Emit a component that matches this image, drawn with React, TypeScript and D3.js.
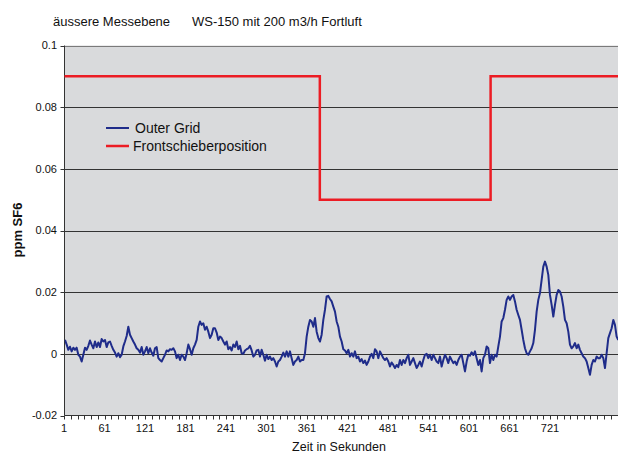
import React from "react";
import * as d3 from "d3";

const W = 618;
const H = 454;

const titleLeft = "äussere Messebene";
const titleRight = "WS-150 mit 200 m3/h Fortluft";
const yAxisTitle = "ppm SF6";
const xAxisTitle = "Zeit in Sekunden";
const seriesNames = ["Outer Grid", "Frontschieberposition"];

const yTickValues = [-0.02, 0, 0.02, 0.04, 0.06, 0.08, 0.1];
const yTickLabels = ["-0.02", "0", "0.02", "0.04", "0.06", "0.08", "0.1"];
const xLabelValues = [1, 61, 121, 181, 241, 301, 361, 421, 481, 541, 601, 661, 721];
const xMinorTicks = d3.range(1, 823, 10);

// Outer Grid samples (ppm SF6)
const sampleStart = 2.48;
const sampleStep = 2.469;
const outerGrid = [
  0.0045, 0.003, 0.0013, 0.0023, 0.0008, 0.002, 0.0013, 0.002, -0.0003, -0.0009, -0.0025, -0.0003, 0.002, 0.0013, 0.0026, 0.0043, 0.003, 0.0018,
  0.004, 0.0022, 0.0037, 0.0022, 0.0048, 0.004, 0.0045, 0.0022, 0.0037, 0.004, 0.0026, 0.0013, 0.0004, -0.0009, 0.0002, -0.0011, -0.0003, 0.0024, 0.004, 0.0058,
  0.0088, 0.0062, 0.0051, 0.004, 0.003, 0.0018, 0.0013, 0.0004, 0.0022, -0.0003, 0.0008, 0.0022, 0.0002, 0.0018, 0.0004, -0.0006, 0.0018, 0.0022, -0.0014, -0.002,
  -0.0025, -0.0014, -0.0003, 0.0011, 0.0008, 0.0015, 0.0013, 0.0018, 0.0008, -0.0014, -0.0003, -0.002, -0.0003, -0.0009, -0.002, 0.0002, 0.003, 0.0015, -0.0003, 0.0018,
  0.003, 0.0045, 0.0088, 0.0105, 0.0094, 0.0099, 0.0078, 0.0088, 0.0072, 0.0051, 0.0062, 0.0083, 0.0083, 0.0069, 0.0045, 0.0056, 0.0051, 0.004, 0.003, 0.004,
  0.0015, 0.0022, 0.0011, 0.003, 0.0022, 0.004, 0.0015, 0.0026, 0.0002, 0, 0.0011, 0.0015, 0.0018, 0.0026, 0.0011, -0.0009, -0.0003, 0.0011, 0.0013, -0.0009,
  0.0013, -0.0003, -0.0022, -0.0003, -0.0017, -0.0009, -0.002, -0.0014, -0.0025, -0.0041, -0.0025, -0.002, -0.0009, 0.0004, -0.0009, 0.0008, -0.0009, 0.0008, -0.0014, -0.0036,
  -0.0025, -0.002, -0.0009, -0.0025, -0.002, -0.002, 0.0002, 0.0056, 0.0088, 0.011, 0.0105, 0.0088, 0.0116, 0.0072, 0.0051, 0.004, 0.0062, 0.011, 0.0143, 0.0186,
  0.0188, 0.0178, 0.017, 0.0153, 0.0137, 0.0105, 0.0088, 0.0056, 0.004, 0.0015, 0.0011, 0.0002, 0.0013, -0.0009, 0.0002, -0.0009, 0.0008, -0.0014, -0.0009, -0.0025,
  -0.0017, -0.003, -0.0022, -0.0036, -0.0025, -0.0009, 0, -0.0014, 0.0015, 0.0008, -0.0014, 0.0008, -0.0003, -0.0014, -0.002, -0.0014, -0.0025, -0.0041, -0.0028, -0.0036,
  -0.0046, -0.0036, -0.0043, -0.002, -0.0036, -0.002, -0.003, -0.0014, -0.0003, -0.0036, -0.0025, -0.0014, -0.003, -0.0046, -0.0036, -0.0025, -0.0041, -0.002, -0.0003, 0,
  -0.0014, -0.0003, -0.002, -0.0003, -0.0014, -0.0025, -0.003, -0.0009, -0.0041, -0.002, -0.0003, -0.0014, -0.003, -0.0009, -0.002, -0.003, -0.0025, -0.0036, -0.002, -0.0009,
  -0.0003, -0.003, -0.0057, -0.0025, -0.0003, -0.0006, 0.0005, -0.0004, 0.0008, -0.0014, -0.0036, -0.002, -0.0057, -0.0014, -0.0003, 0.0024, 0.0018, -0.003, -0.0003, -0.002,
  -0.0003, -0.0009, 0.0024, 0.0056, 0.0105, 0.0116, 0.0143, 0.0175, 0.0186, 0.0175, 0.0186, 0.0191, 0.017, 0.0143, 0.0126, 0.011, 0.0078, 0.0045, 0.0018, 0.0002,
  -0.0003, 0.0008, 0.0018, 0.0035, 0.0078, 0.0137, 0.0175, 0.0197, 0.024, 0.0283, 0.0299, 0.0283, 0.0256, 0.0191, 0.0159, 0.0121, 0.0159, 0.0191, 0.0207, 0.0202,
  0.0186, 0.0153, 0.011, 0.0099, 0.0072, 0.003, 0.0018, 0.0024, 0.0035, 0.0018, 0.003, 0.0013, 0.0002, -0.0009, -0.0014, -0.0025, -0.0046, -0.0068, -0.0036, -0.002,
  -0.0025, -0.0009, -0.0014, -0.0014, -0.0003, -0.0014, -0.0046, 0.0002, 0.0051, 0.0067, 0.0083, 0.011, 0.0094, 0.0056, 0.0045,
];

// Frontschieberposition (step signal)
const frontTimes = [1, 380, 380, 633, 633, 826];
const frontValues = [0.09, 0.09, 0.05, 0.05, 0.09, 0.09];

const FONT = "'Liberation Sans', Arial, Helvetica, sans-serif";

export default function App() {
  const plot = { left: 64.5, right: 618, top: 45.5, bottom: 415.5 };
  const x = d3.scaleLinear().domain([1, 721]).range([64, 550]);
  const y = d3.scaleLinear().domain([-0.02, 0.1]).range([plot.bottom, plot.top]);

  const blueLine = d3
    .line<number>()
    .x((_, i) => x(sampleStart + i * sampleStep))
    .y((d) => y(d))(outerGrid) as string;

  const redLine = d3
    .line<number>()
    .x((_, i) => x(frontTimes[i]))
    .y((d) => y(d))(frontValues) as string;

  const blue = "#1f2c8a";
  const red = "#ec1c24";

  return (
    <div style={{ position: "absolute", left: 0, top: 0 }}>
      <svg width={W} height={H} style={{ display: "block", background: "#fff" }} fontFamily={FONT}>
        <defs>
          <clipPath id="plotClip">
            <rect x={plot.left} y={plot.top - 2} width={plot.right - plot.left} height={plot.bottom - plot.top + 4} />
          </clipPath>
        </defs>
        <text x={53} y={26} fontSize={13} fill="#111">{titleLeft}</text>
        <text x={192} y={26} fontSize={13} fill="#111">{titleRight}</text>

        <rect x={plot.left} y={plot.top} width={plot.right - plot.left} height={plot.bottom - plot.top} fill="#d9dadc" />

        {yTickValues.map((v, i) => (
          <g key={"gy" + i}>
            {v > -0.02 && (
              <line
                x1={plot.left}
                x2={plot.right}
                y1={Math.round(y(v)) + 0.5}
                y2={Math.round(y(v)) + 0.5}
                stroke={v === 0.1 ? "#7a7a7a" : "#333"}
                strokeWidth={1}
              />
            )}
            <line x1={plot.left - 4} x2={plot.left} y1={Math.round(y(v)) + 0.5} y2={Math.round(y(v)) + 0.5} stroke="#333" />
            <text x={57} y={y(v)} dy="0.35em" textAnchor="end" fontSize={11} fill="#111">
              {yTickLabels[i]}
            </text>
          </g>
        ))}

        <line x1={plot.left} x2={plot.left} y1={plot.top} y2={plot.bottom} stroke="#333" />
        <line x1={plot.left} x2={plot.right} y1={plot.bottom} y2={plot.bottom} stroke="#333" />

        {xMinorTicks.map((t) => (
          <line key={"tx" + t} x1={Math.round(x(t)) + 0.5} x2={Math.round(x(t)) + 0.5} y1={plot.bottom} y2={plot.bottom + 4} stroke="#333" />
        ))}
        {xLabelValues.map((t) => (
          <text key={"lx" + t} x={x(t)} y={432} textAnchor="middle" fontSize={11} fill="#111">
            {t}
          </text>
        ))}

        <g clipPath="url(#plotClip)">
          <path d={redLine} fill="none" stroke={red} strokeWidth={2.5} />
          <path d={blueLine} fill="none" stroke={blue} strokeWidth={2} strokeLinejoin="round" />
        </g>

        <line x1={106} x2={129} y1={128} y2={128} stroke={blue} strokeWidth={2} />
        <text x={135} y={128} dy="0.35em" fontSize={14} fill="#111">{seriesNames[0]}</text>
        <line x1={106} x2={129} y1={146} y2={146} stroke={red} strokeWidth={2.5} />
        <text x={133} y={146} dy="0.35em" fontSize={14} fill="#111">{seriesNames[1]}</text>

        <text x={339} y={451} textAnchor="middle" fontSize={12.5} fill="#111">{xAxisTitle}</text>
        <text transform="translate(22,230) rotate(-90)" textAnchor="middle" fontSize={13} fontWeight="bold" fill="#111">
          {yAxisTitle}
        </text>
      </svg>
    </div>
  );
}
